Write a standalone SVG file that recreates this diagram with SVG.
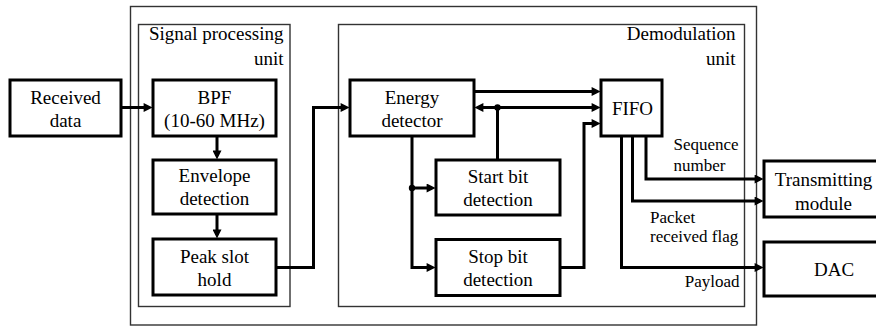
<svg xmlns="http://www.w3.org/2000/svg" width="876" height="327" viewBox="0 0 876 327">
<defs>
<marker id="arr" viewBox="0 0 10 10" refX="6" refY="5" markerWidth="10" markerHeight="9" markerUnits="userSpaceOnUse" orient="auto-start-reverse">
<path d="M0,0 L10,5 L0,10 z" fill="#000"/>
</marker>
</defs>
<rect x="0" y="0" width="876" height="327" fill="#fff"/>
<g id="containers">
<rect id="outer" x="130.5" y="6.5" width="626" height="318.5" fill="none" stroke="#333" stroke-width="1.4"/>
<g id="signal-processing-unit">
<rect x="138.5" y="24.5" width="151.5" height="282" fill="none" stroke="#333" stroke-width="1.4"/>
<text text-anchor="end" x="283.5" y="40" font-family="Liberation Serif" font-size="19">Signal processing</text>
<text text-anchor="end" x="283.5" y="65" font-family="Liberation Serif" font-size="19">unit</text>
</g>
<g id="demodulation-unit">
<rect x="338.5" y="24.5" width="406" height="282" fill="none" stroke="#333" stroke-width="1.4"/>
<text text-anchor="end" x="735.5" y="40" font-family="Liberation Serif" font-size="19">Demodulation</text>
<text text-anchor="end" x="735.5" y="65" font-family="Liberation Serif" font-size="19">unit</text>
</g>
</g>
<g id="connectors">
<g fill="none" stroke="#000" stroke-width="3">
<path d="M121,107.5 H149" marker-end="url(#arr)"/>
<path d="M217,136 V156" marker-end="url(#arr)"/>
<path d="M217,214 V235" marker-end="url(#arr)"/>
<path d="M276,267.5 H313.5 V107.5 H346" marker-end="url(#arr)"/>
<path d="M474,91.5 H597" marker-end="url(#arr)"/>
<path d="M478,107.5 H597" marker-start="url(#arr)" marker-end="url(#arr)"/>
<path d="M497.5,160 V107.5"/>
<path d="M412,136 V267.5 H432" marker-end="url(#arr)"/>
<path d="M412,188 H432" marker-end="url(#arr)"/>
<path d="M560,267.5 H584 V123.5 H597" marker-end="url(#arr)"/>
<path d="M646,136 V179 H760" marker-end="url(#arr)"/>
<path d="M632.5,136 V201 H760" marker-end="url(#arr)"/>
<path d="M621.5,136 V267.5 H760" marker-end="url(#arr)"/>
</g>
<circle cx="497.5" cy="107.5" r="3.2" fill="#000"/>
<circle cx="412" cy="188" r="3.2" fill="#000"/>
<text x="673.5" y="150" font-family="Liberation Serif" font-size="17">Sequence</text>
<text x="673.5" y="170.5" font-family="Liberation Serif" font-size="17">number</text>
<text x="650" y="222.5" font-family="Liberation Serif" font-size="17">Packet</text>
<text x="650" y="241.5" font-family="Liberation Serif" font-size="17">received flag</text>
<text text-anchor="end" x="739.5" y="286.5" font-family="Liberation Serif" font-size="17">Payload</text>
</g>
<g id="nodes" fill="#fff" stroke="#000" stroke-width="3">
<g id="received-data">
<rect x="10" y="80" width="111" height="56"/>
<text text-anchor="middle" x="65.5" y="103.5" font-family="Liberation Serif" font-size="19" fill="#000" stroke="none">Received</text>
<text text-anchor="middle" x="65.5" y="126.5" font-family="Liberation Serif" font-size="19" fill="#000" stroke="none">data</text>
</g>
<g id="bpf">
<rect x="153" y="80" width="123" height="56"/>
<text text-anchor="middle" x="214.5" y="103.5" font-family="Liberation Serif" font-size="19" fill="#000" stroke="none">BPF</text>
<text text-anchor="middle" x="214.5" y="126.5" font-family="Liberation Serif" font-size="19" fill="#000" stroke="none">(10-60 MHz)</text>
</g>
<g id="envelope-detection">
<rect x="153" y="160" width="123" height="54"/>
<text text-anchor="middle" x="214.5" y="182" font-family="Liberation Serif" font-size="19" fill="#000" stroke="none">Envelope</text>
<text text-anchor="middle" x="214.5" y="205" font-family="Liberation Serif" font-size="19" fill="#000" stroke="none">detection</text>
</g>
<g id="peak-slot-hold">
<rect x="153" y="239" width="123" height="56"/>
<text text-anchor="middle" x="214.5" y="262.5" font-family="Liberation Serif" font-size="19" fill="#000" stroke="none">Peak slot</text>
<text text-anchor="middle" x="214.5" y="285.5" font-family="Liberation Serif" font-size="19" fill="#000" stroke="none">hold</text>
</g>
<g id="energy-detector">
<rect x="350" y="80" width="124" height="56"/>
<text text-anchor="middle" x="412" y="103.5" font-family="Liberation Serif" font-size="19" fill="#000" stroke="none">Energy</text>
<text text-anchor="middle" x="412" y="126.5" font-family="Liberation Serif" font-size="19" fill="#000" stroke="none">detector</text>
</g>
<g id="start-bit-detection">
<rect x="436" y="160" width="124" height="55"/>
<text text-anchor="middle" x="498" y="182.5" font-family="Liberation Serif" font-size="19" fill="#000" stroke="none">Start bit</text>
<text text-anchor="middle" x="498" y="205.5" font-family="Liberation Serif" font-size="19" fill="#000" stroke="none">detection</text>
</g>
<g id="stop-bit-detection">
<rect x="436" y="239.5" width="124" height="56"/>
<text text-anchor="middle" x="498" y="263" font-family="Liberation Serif" font-size="19" fill="#000" stroke="none">Stop bit</text>
<text text-anchor="middle" x="498" y="286" font-family="Liberation Serif" font-size="19" fill="#000" stroke="none">detection</text>
</g>
<g id="fifo">
<rect x="601" y="80" width="61" height="56"/>
<text text-anchor="middle" x="632.5" y="115" font-family="Liberation Serif" font-size="19" fill="#000" stroke="none">FIFO</text>
</g>
<g id="transmitting-module">
<rect x="764" y="161" width="130" height="56"/>
<text text-anchor="middle" x="823.5" y="186" font-family="Liberation Serif" font-size="19" fill="#000" stroke="none">Transmitting</text>
<text text-anchor="middle" x="823.5" y="209.5" font-family="Liberation Serif" font-size="19" fill="#000" stroke="none">module</text>
</g>
<g id="dac">
<rect x="764" y="242" width="130" height="54"/>
<text text-anchor="middle" x="834" y="276" font-family="Liberation Serif" font-size="19" fill="#000" stroke="none">DAC</text>
</g>
</g>
</svg>
